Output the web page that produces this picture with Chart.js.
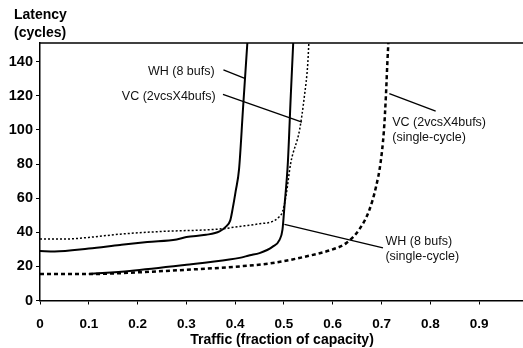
<!DOCTYPE html>
<html>
<head>
<meta charset="utf-8">
<script src="https://cdn.jsdelivr.net/npm/chart.js@4"></script>
<style>
  body { margin: 0; background: #fff; }
  canvas { display: block; }
</style>
</head>
<body>
<canvas id="chart" width="523" height="348"></canvas>
<script>
// WH (8 bufs)
const whX = [0, 0.03, 0.1, 0.164, 0.22, 0.28, 0.3, 0.34, 0.368, 0.38, 0.39, 0.395, 0.401, 0.408, 0.416, 0.425];
const whY = [29, 28.8, 30.5, 32.6, 34.3, 35.8, 37.2, 38.5, 40.5, 43, 47, 54, 64, 77, 112, 151];
// VC (2vcsX4bufs)
const vcX = [0, 0.05, 0.1, 0.164, 0.25, 0.368, 0.409, 0.45, 0.477, 0.49, 0.497, 0.504, 0.514, 0.532, 0.542, 0.549, 0.551];
const vcY = [36, 36, 37, 38.9, 40.5, 41.9, 43.4, 45, 46.4, 49, 52, 61, 80.7, 100, 120, 139.5, 151];
// WH (8 bufs) single-cycle
const whsX = [0.1, 0.184, 0.3, 0.388, 0.409, 0.43, 0.45, 0.477, 0.491, 0.497, 0.501, 0.508, 0.514, 0.519];
const whsY = [15.5, 17.3, 20.9, 24, 25, 26.5, 27.8, 31.6, 35.6, 41.5, 55, 80.7, 120, 151];
// VC (2vcsX4bufs) single-cycle
const vcsX = [0, 0.1, 0.2, 0.3, 0.409, 0.477, 0.545, 0.6, 0.627, 0.654, 0.675, 0.689, 0.698, 0.705, 0.709, 0.712, 0.714];
const vcsY = [15.5, 15.5, 16.5, 18, 20, 22, 25.8, 30, 33.5, 41.5, 53, 67, 80.7, 100, 120, 139.5, 151];

const xTicks = [0, 0.1, 0.2, 0.3, 0.4, 0.5, 0.6, 0.7, 0.8, 0.9];
const xTickLabels = ['0', '0.1', '0.2', '0.3', '0.4', '0.5', '0.6', '0.7', '0.8', '0.9'];
const yTicks = [0, 20, 40, 60, 80, 100, 120, 140];

// callout labels, in data units
const callouts = [
  { text: ['WH (8 bufs)'], at: [0.358, 134.4], align: 'right', line: [[0.376, 135.2], [0.421, 130.1]] },
  { text: ['VC (2vcsX4bufs)'], at: [0.36, 119.7], align: 'right', line: [[0.375, 120.9], [0.537, 104.6]] },
  { text: ['VC (2vcsX4bufs)', '(single-cycle)'], at: [0.722, 104.4], align: 'left', line: [[0.716, 121.3], [0.811, 111.1]] },
  { text: ['WH (8 bufs)', '(single-cycle)'], at: [0.708, 34.4], align: 'left', line: [[0.501, 44.6], [0.703, 30.9]] }
];

function pts(xs, ys) {
  return xs.map((x, i) => ({ x: x, y: ys[i] }));
}

const extras = {
  id: 'extras',
  afterDraw(chart) {
    const ctx = chart.ctx;
    const xs = chart.scales.x, ys = chart.scales.y;
    const area = chart.chartArea;
    ctx.save();
    // top frame line
    ctx.strokeStyle = '#000';
    ctx.lineWidth = 1.5;
    ctx.beginPath();
    ctx.moveTo(area.left, area.top);
    ctx.lineTo(area.right, area.top);
    ctx.stroke();
    // callouts
    ctx.fillStyle = '#111';
    ctx.font = '12.5px "Liberation Sans", Arial, sans-serif';
    ctx.textBaseline = 'middle';
    ctx.lineWidth = 1.3;
    callouts.forEach(c => {
      ctx.beginPath();
      ctx.moveTo(xs.getPixelForValue(c.line[0][0]), ys.getPixelForValue(c.line[0][1]));
      ctx.lineTo(xs.getPixelForValue(c.line[1][0]), ys.getPixelForValue(c.line[1][1]));
      ctx.stroke();
      ctx.textAlign = c.align;
      const px = xs.getPixelForValue(c.at[0]);
      const py = ys.getPixelForValue(c.at[1]);
      c.text.forEach((t, i) => ctx.fillText(t, px, py + i * 15));
    });
    // axis titles
    ctx.fillStyle = '#000';
    ctx.font = 'bold 14px "Liberation Sans", Arial, sans-serif';
    ctx.textAlign = 'left';
    ctx.fillText('Latency', 14, 15);
    ctx.fillText('(cycles)', 14, 33);
    ctx.textAlign = 'center';
    ctx.fillText('Traffic (fraction of capacity)', 282, 340);
    ctx.restore();
  }
};

new Chart(document.getElementById('chart'), {
  type: 'scatter',
  data: {
    datasets: [
      { data: pts(whX, whY), borderColor: '#000', borderWidth: 2 },
      { data: pts(vcX, vcY), borderColor: '#000', borderWidth: 1.5, borderDash: [2, 2] },
      { data: pts(whsX, whsY), borderColor: '#000', borderWidth: 2 },
      { data: pts(vcsX, vcsY), borderColor: '#000', borderWidth: 2.5, borderDash: [4, 3] }
    ]
  },
  options: {
    responsive: false,
    animation: false,
    showLine: true,
    elements: {
      point: { radius: 0 },
      line: { cubicInterpolationMode: 'monotone', fill: false }
    },
    layout: { padding: { top: 43, right: 0, left: 0, bottom: 0 } },
    plugins: { legend: { display: false }, tooltip: { enabled: false } },
    scales: {
      x: {
        type: 'linear',
        min: 0,
        max: 0.99,
        afterFit(scale) { scale.height = 47.5; },
        afterBuildTicks(scale) { scale.ticks = xTicks.map(v => ({ value: v })); },
        grid: { drawOnChartArea: false, drawTicks: true, tickLength: 4, color: '#000', tickColor: '#000' },
        border: { display: true, color: '#000', width: 1.5 },
        ticks: {
          padding: 12,
          color: '#000',
          font: { family: '"Liberation Sans", Arial, sans-serif', size: 13.5, weight: 'bold' },
          maxRotation: 0,
          callback: (v) => xTickLabels[xTicks.indexOf(v)]
        }
      },
      y: {
        type: 'linear',
        min: 0,
        max: 151,
        afterFit(scale) { scale.width = 40; },
        afterBuildTicks(scale) { scale.ticks = yTicks.map(v => ({ value: v })); },
        grid: { drawOnChartArea: false, drawTicks: true, tickLength: 4, color: '#000', tickColor: '#000' },
        border: { display: true, color: '#000', width: 1.5 },
        ticks: {
          padding: 3,
          color: '#000',
          font: { family: '"Liberation Sans", Arial, sans-serif', size: 14.5, weight: 'bold' }
        }
      }
    }
  },
  plugins: [extras]
});
</script>
</body>
</html>
